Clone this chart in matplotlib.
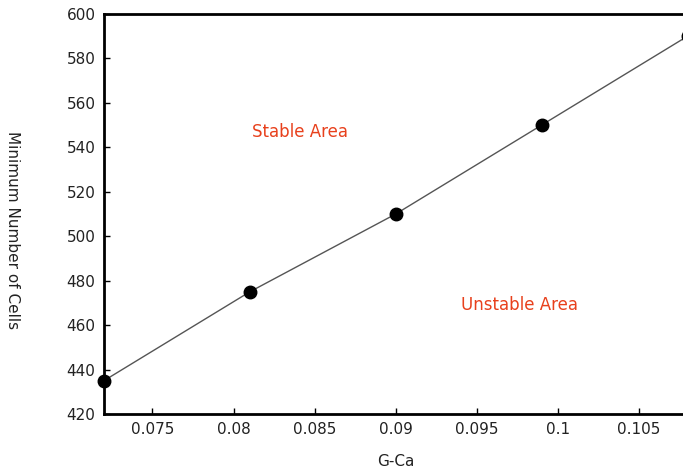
from matplotlib import pyplot as plt

plt.rcParams['font.family'] = ['DejaVu Sans']

g_ca = [0.072, 0.081, 0.090, 0.099, 0.108]
min_cells = [435, 475, 510, 550, 590]

fig = plt.figure(figsize=(6.83, 4.76), dpi=100)
ax = fig.add_axes([0.152, 0.130, 0.855, 0.841])

ax.plot(g_ca, min_cells, c='#555555', lw=1, marker='o', ms=9,
        mfc='black', mec='black', clip_on=False)

ax.set_xlim(0.072, 0.108)
ax.set_ylim(420, 600)
ax.set_xticks([0.075, 0.08, 0.085, 0.09, 0.095, 0.1, 0.105])
ax.set_xticklabels(['0.075', '0.08', '0.085', '0.09', '0.095', '0.1', '0.105'])
ax.set_yticks(range(420, 601, 20))

for side in ['left', 'bottom', 'top', 'right']:
    ax.spines[side].set_linewidth(2)
ax.tick_params(axis='both', direction='in', length=4, width=1,
               labelsize=11, pad=6, labelcolor='#222222')

ax.text(0.0841, 547, 'Stable Area', color='#e8401c', fontsize=12,
        ha='center', va='center')
ax.text(0.0976, 469, 'Unstable Area', color='#e8401c', fontsize=12,
        ha='center', va='center')

ax.set_xlabel('G-Ca', fontsize=11, labelpad=12, color='#222222')
ax.set_ylabel('Minimum Number of Cells', fontsize=11, rotation=270,
              labelpad=44, color='#222222', y=0.46)

fig.savefig('out.png', dpi=100)
